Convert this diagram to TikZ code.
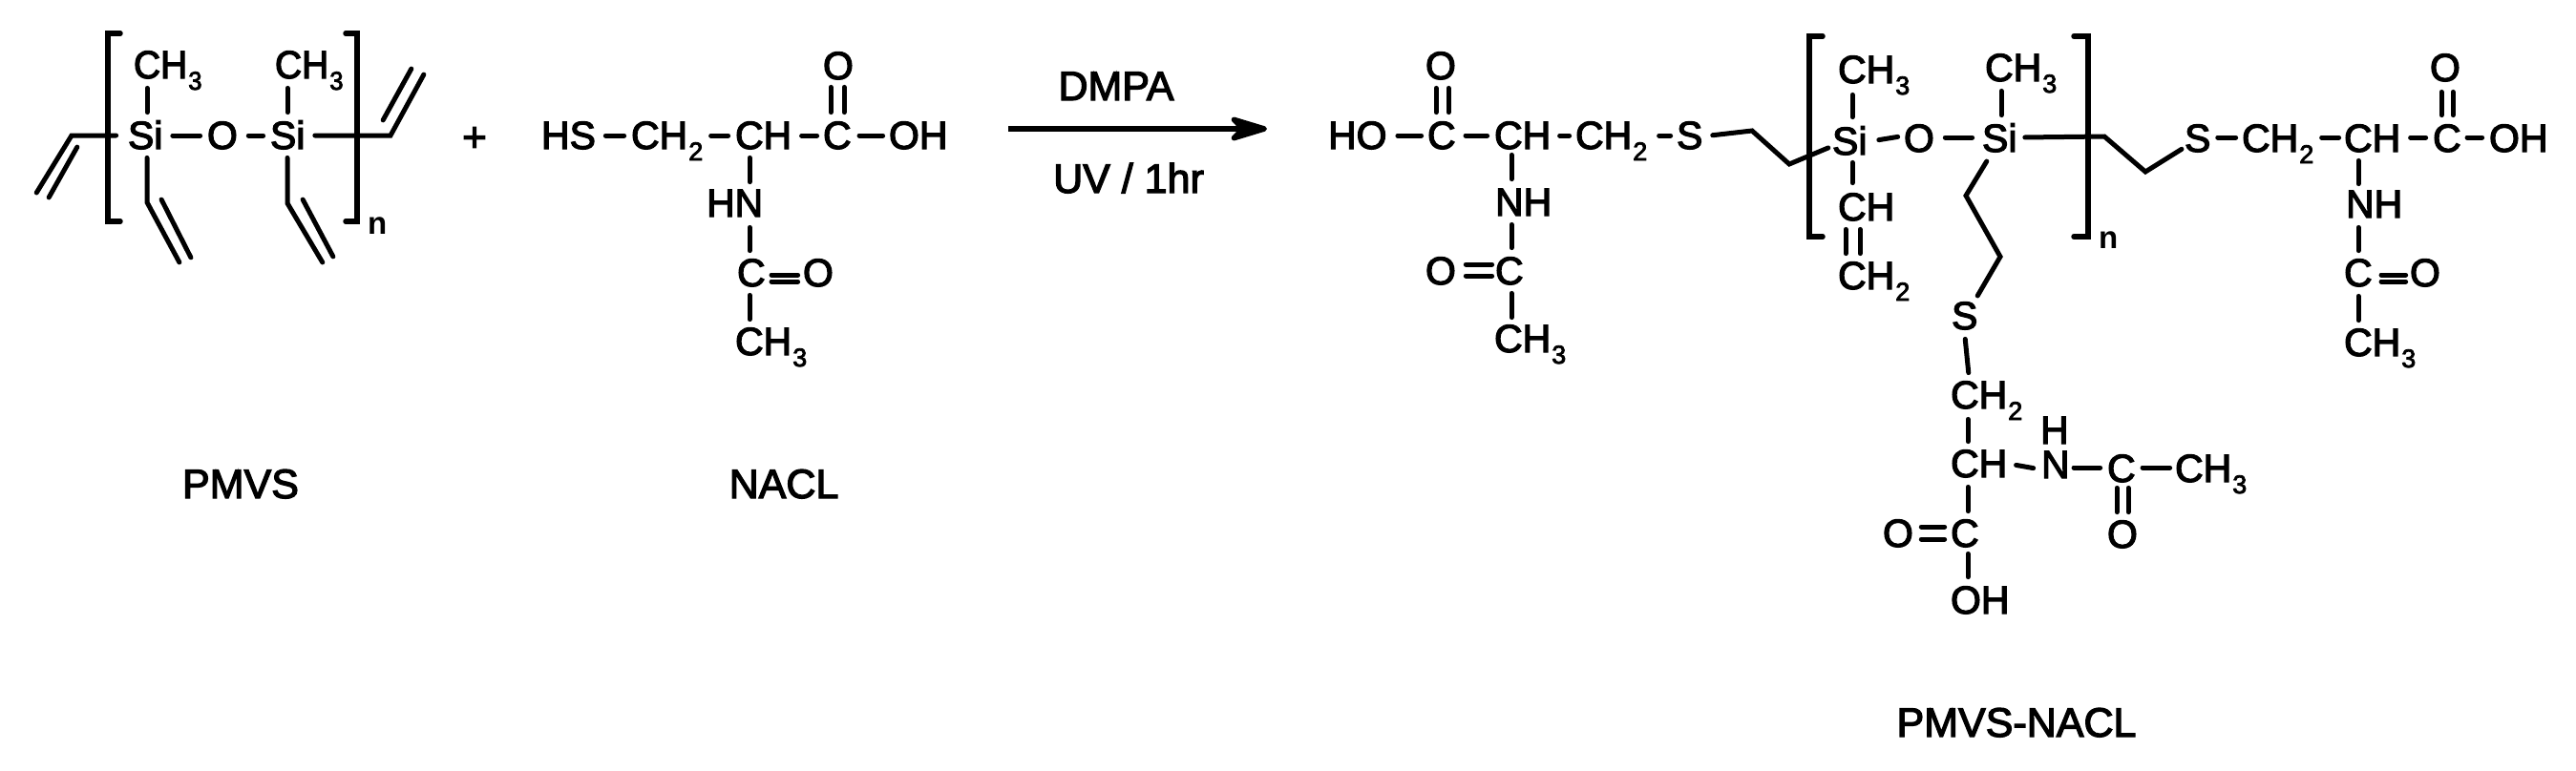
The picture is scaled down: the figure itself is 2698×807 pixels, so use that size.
\documentclass[tikz,border=0pt]{standalone}
\usepackage{fontspec}
\usepackage{tikz}
\usetikzlibrary{arrows.meta}
\newfontfamily\atomfont{Liberation Sans}[FakeBold=3]
\newfontfamily\narrowfont{Liberation Sans}[FakeBold=3,FakeStretch=0.95]
\newfontfamily\repeatfont{Liberation Sans Bold}
\newcommand{\chemsub}[1]{\kern1pt\raisebox{-12pt}{\fontsize{27}{27}\selectfont #1}}

\begin{document}
\begin{tikzpicture}[x=1pt, y=-1pt,
  atom/.style={inner sep=0pt, outer sep=0pt, anchor=base west, font=\atomfont\fontsize{41}{41}\selectfont},
  narrowatom/.style={atom, font=\narrowfont\fontsize{41}{41}\selectfont},
  sublabel/.style={inner sep=0pt, anchor=base west, font=\repeatfont\fontsize{33}{33}\selectfont},
  caption/.style={inner sep=0pt, anchor=base, font=\atomfont\fontsize{43}{43}\selectfont},
  bond/.style={draw, line width=5pt, line cap=round, line join=miter, shorten >=2.4pt, shorten <=2.4pt},
  bracket/.style={draw, line width=5.5pt, line cap=round, line join=miter}
]
  \useasboundingbox (0,0) rectangle (2698,807);

  % PMVS
  \node[atom] (pSi1) at (134,156) {Si};
  \node[atom] (pO) at (217,156) {O};
  \node[atom] (pSi2) at (283,156) {Si};
  \node[narrowatom] (pMe1) at (140,82) {CH\chemsub{3}};
  \node[narrowatom] (pMe2) at (288,82) {CH\chemsub{3}};
  \node[sublabel] (pN) at (385,245) {n};
  \coordinate (vL1) at (75,142);
  \coordinate (vL2) at (37,204);
  \coordinate (vL3) at (82,152);
  \coordinate (vL4) at (50,209);
  \coordinate (vD1) at (154,212);
  \coordinate (vD2) at (189,277);
  \coordinate (vD3) at (168,207);
  \coordinate (vD4) at (201,272);
  \coordinate (vE1) at (301,213);
  \coordinate (vE2) at (339,277);
  \coordinate (vE3) at (316,207);
  \coordinate (vE4) at (350,271);
  \coordinate (vR1) at (409,142);
  \coordinate (vR2) at (445,76);
  \coordinate (vR3) at (400,128);
  \coordinate (vR4) at (432,70);
  \draw[bracket] (126,35) -| (113,232) -- (126,232);
  \draw[bracket] (362,35) -| (374,232) -- (362,232);
  \draw[bond] ([shift={(14,8)}]pMe1.base west) -- ([shift={(20,-36)}]pSi1.base west);
  \draw[bond] ([shift={(13,8)}]pMe2.base west) -- ([shift={(18,-36)}]pSi2.base west);
  \draw[bond] ([shift={(8,-14)}]pSi1.base east) -- ([shift={(-5,-14)}]pO.base west);
  \draw[bond] ([shift={(9,-14)}]pO.base east) -- ([shift={(-5,-14)}]pSi2.base west);
  \draw[bond] ([shift={(-10,-14)}]pSi1.base west) -- (vL1) -- (vL2);
  \draw[bond] (vL3) -- (vL4);
  \draw[bond] ([shift={(20,7)}]pSi1.base west) -- (vD1) -- (vD2);
  \draw[bond] (vD3) -- (vD4);
  \draw[bond] ([shift={(18,7)}]pSi2.base west) -- (vE1) -- (vE2);
  \draw[bond] (vE3) -- (vE4);
  \draw[bond] ([shift={(8,-14)}]pSi2.base east) -- (vR1) -- (vR2);
  \draw[bond] (vR3) -- (vR4);
  \node[inner sep=0pt, font=\atomfont\fontsize{44}{44}\selectfont] (plus) at (497,146) {+};

  % NACL
  \node[atom] (nHS) at (567,156) {HS};
  \node[atom] (nCH2) at (661,156) {CH\chemsub{2}};
  \node[atom] (nCH) at (770,156) {CH};
  \node[atom] (nC) at (862,156) {C};
  \node[atom] (nOH) at (931,156) {OH};
  \node[atom] (nO) at (862,83) {O};
  \node[atom] (nHN) at (740,227) {HN};
  \node[atom] (nC2) at (772,300) {C};
  \node[atom] (nO2) at (841,300) {O};
  \node[atom] (nMe) at (770,372) {CH\chemsub{3}};
  \draw[bond] ([shift={(8,-14)}]nHS.base east) -- ([shift={(-5,-14)}]nCH2.base west);
  \draw[bond] ([shift={(6,-14)}]nCH2.base east) -- ([shift={(-5,-14)}]nCH.base west);
  \draw[bond] ([shift={(8,-14)}]nCH.base east) -- ([shift={(-4,-14)}]nC.base west);
  \draw[bond] ([shift={(6,-14)}]nC.base east) -- ([shift={(-4,-14)}]nOH.base west);
  \draw[bond] ([shift={(8,6)}]nO.base west) -- ([shift={(8,-36)}]nC.base west);
  \draw[bond] ([shift={(22,6)}]nO.base west) -- ([shift={(22,-36)}]nC.base west);
  \draw[bond] ([shift={(15,7)}]nCH.base west) -- ([shift={(45,-34)}]nHN.base west);
  \draw[bond] ([shift={(45,9)}]nHN.base west) -- ([shift={(13,-35)}]nC2.base west);
  \draw[bond] ([shift={(13,7)}]nC2.base west) -- ([shift={(15,-35)}]nMe.base west);
  \draw[bond] ([shift={(4,-12)}]nC2.base east) -- ([shift={(-3,-12)}]nO2.base west);
  \draw[bond] ([shift={(4,-5)}]nC2.base east) -- ([shift={(-3,-5)}]nO2.base west);

  % reaction arrow
  \coordinate (arrowL) at (1056,135);
  \coordinate (arrowR) at (1327,135);
  \draw[line width=5.5pt, -{Stealth[length=50pt, width=30pt, inset=14pt, round]}] (arrowL) -- (arrowR);
  \node[caption] (dmpa) at (1169,105) {DMPA};
  \node[caption] (uv) at (1182,202) {UV / 1hr};

  % PMVS-NACL, left arm
  \node[atom] (rHO) at (1391,156) {HO};
  \node[atom] (rC1) at (1495,156) {C};
  \node[atom] (rCH1) at (1565,156) {CH};
  \node[atom] (rCH21) at (1650,156) {CH\chemsub{2}};
  \node[atom] (rS1) at (1756,156) {S};
  \node[atom] (rO1) at (1493,83) {O};
  \node[atom] (rNH1) at (1566,226) {NH};
  \node[atom] (rC2) at (1566,298) {C};
  \node[atom] (rO2) at (1493,298) {O};
  \node[atom] (rMe1) at (1565,369) {CH\chemsub{3}};
  \draw[bond] ([shift={(9,-14)}]rHO.base east) -- ([shift={(-4,-14)}]rC1.base west);
  \draw[bond] ([shift={(8,-14)}]rC1.base east) -- ([shift={(-5,-14)}]rCH1.base west);
  \draw[bond] ([shift={(7,-14)}]rCH1.base east) -- ([shift={(-4,-14)}]rCH21.base west);
  \draw[bond] ([shift={(10,-14)}]rCH21.base east) -- ([shift={(-4,-14)}]rS1.base west);
  \draw[bond] ([shift={(11,7)}]rO1.base west) -- ([shift={(9,-36)}]rC1.base west);
  \draw[bond] ([shift={(24,7)}]rO1.base west) -- ([shift={(22,-36)}]rC1.base west);
  \draw[bond] ([shift={(18,4)}]rCH1.base west) -- ([shift={(17,-36)}]rNH1.base west);
  \draw[bond] ([shift={(17,7)}]rNH1.base west) -- ([shift={(17,-36)}]rC2.base west);
  \draw[bond] ([shift={(17,7)}]rC2.base west) -- ([shift={(18,-34)}]rMe1.base west);
  \draw[bond] ([shift={(8,-21)}]rO2.base east) -- ([shift={(-1,-21)}]rC2.base west);
  \draw[bond] ([shift={(8,-9)}]rO2.base east) -- ([shift={(-1,-9)}]rC2.base west);

  % PMVS-NACL, siloxane
  \node[atom] (rSi1) at (1919,162) {Si};
  \node[atom] (rO) at (1994,159) {O};
  \node[atom] (rSi2) at (2076,159) {Si};
  \node[atom] (rMe2) at (1925,87) {CH\chemsub{3}};
  \node[atom] (rMe3) at (2079,85) {CH\chemsub{3}};
  \node[atom] (rCH) at (1925,231) {CH};
  \node[atom] (rCH2v) at (1925,303) {CH\chemsub{2}};
  \node[sublabel] (rN1) at (2198,260) {n};
  \coordinate (c1) at (1835,137);
  \coordinate (c2) at (1874,172);
  \coordinate (c3) at (2204,143);
  \coordinate (c4) at (2247,180);
  \coordinate (c5) at (2059,205);
  \coordinate (c6) at (2095,269);
  \draw[bracket] (1909,38) -| (1895,248) -- (1909,248);
  \draw[bracket] (2172,38) -| (2187,248) -- (2172,248);
  \draw[bond] ([shift={(8,-14)}]rS1.base east) -- (c1) -- (c2) -- ([shift={(-2,-8)}]rSi1.base west);
  \draw[bond] ([shift={(15,10)}]rMe2.base west) -- ([shift={(21,-37)}]rSi1.base west);
  \draw[bond] ([shift={(21,6)}]rSi1.base west) -- ([shift={(15,-37)}]rCH.base west);
  \draw[bond] ([shift={(8,7)}]rCH.base west) -- ([shift={(8,-35)}]rCH2v.base west);
  \draw[bond] ([shift={(23,7)}]rCH.base west) -- ([shift={(23,-35)}]rCH2v.base west);
  \draw[bond] ([shift={(10,-15)}]rSi1.base east) -- ([shift={(-4,-16)}]rO.base west);
  \draw[bond] ([shift={(9,-15)}]rO.base east) -- ([shift={(-8,-15)}]rSi2.base west);
  \draw[bond] ([shift={(17,8)}]rMe3.base west) -- ([shift={(20,-36)}]rSi2.base west);

  % PMVS-NACL, right arm
  \node[atom] (rS2) at (2288,159) {S};
  \node[atom] (rCH22) at (2348,159) {CH\chemsub{2}};
  \node[atom] (rCH3) at (2455,159) {CH};
  \node[atom] (rC3) at (2548,159) {C};
  \node[atom] (rOH) at (2607,159) {OH};
  \node[atom] (rO3) at (2545,85) {O};
  \node[atom] (rNH2) at (2457,228) {NH};
  \node[atom] (rC4) at (2455,300) {C};
  \node[atom] (rO4) at (2524,300) {O};
  \node[atom] (rMe4) at (2455,373) {CH\chemsub{3}};
  \draw[bond] ([shift={(6,-15)}]rSi2.base east) -- (c3) -- (c4) -- ([shift={(-1,-4)}]rS2.base west);
  \draw[bond] ([shift={(5,-15)}]rS2.base east) -- ([shift={(-4,-15)}]rCH22.base west);
  \draw[bond] ([shift={(6,-15)}]rCH22.base east) -- ([shift={(-3,-15)}]rCH3.base west);
  \draw[bond] ([shift={(8,-15)}]rCH3.base east) -- ([shift={(-5,-15)}]rC3.base west);
  \draw[bond] ([shift={(4,-15)}]rC3.base east) -- ([shift={(-5,-15)}]rOH.base west);
  \draw[bond] ([shift={(12,9)}]rO3.base west) -- ([shift={(9,-36)}]rC3.base west);
  \draw[bond] ([shift={(24,9)}]rO3.base west) -- ([shift={(21,-36)}]rC3.base west);
  \draw[bond] ([shift={(15,7)}]rCH3.base west) -- ([shift={(13,-33)}]rNH2.base west);
  \draw[bond] ([shift={(13,8)}]rNH2.base west) -- ([shift={(15,-35)}]rC4.base west);
  \draw[bond] ([shift={(15,8)}]rC4.base west) -- ([shift={(15,-35)}]rMe4.base west);
  \draw[bond] ([shift={(7,-12)}]rC4.base east) -- ([shift={(-2,-12)}]rO4.base west);
  \draw[bond] ([shift={(7,-5)}]rC4.base east) -- ([shift={(-2,-5)}]rO4.base west);

  % PMVS-NACL, lower arm
  \node[atom] (rS3) at (2044,345) {S};
  \node[atom] (rCH23) at (2043,428) {CH\chemsub{2}};
  \node[atom] (rCH4) at (2043,500) {CH};
  \node[atom] (rC5) at (2043,573) {C};
  \node[atom] (rO5) at (1972,573) {O};
  \node[atom] (rOH2) at (2043,643) {OH};
  \node[atom] (rH) at (2137,465) {H};
  \node[atom] (rN) at (2138,501) {N};
  \node[atom] (rC6) at (2207,505) {C};
  \node[atom] (rO6) at (2207,574) {O};
  \node[atom] (rMe5) at (2278,505) {CH\chemsub{3}};
  \draw[bond] ([shift={(6,8)}]rSi2.base west) -- (c5) -- (c6) -- ([shift={(26,-33)}]rS3.base west);
  \draw[bond] ([shift={(14,8)}]rS3.base west) -- ([shift={(19,-35)}]rCH23.base west);
  \draw[bond] ([shift={(18,9)}]rCH23.base west) -- ([shift={(18,-35)}]rCH4.base west);
  \draw[bond] ([shift={(18,8)}]rCH4.base west) -- ([shift={(18,-35)}]rC5.base west);
  \draw[bond] ([shift={(18,5)}]rC5.base west) -- ([shift={(18,-36)}]rOH2.base west);
  \draw[bond] ([shift={(6,-21)}]rO5.base east) -- ([shift={(-4,-21)}]rC5.base west);
  \draw[bond] ([shift={(6,-8)}]rO5.base east) -- ([shift={(-4,-8)}]rC5.base west);
  \draw[bond] ([shift={(7,-13)}]rCH4.base east) -- ([shift={(-6,-10)}]rN.base west);
  \draw[bond] ([shift={(2,-11)}]rN.base east) -- ([shift={(-5,-15)}]rC6.base west);
  \draw[bond] ([shift={(5,-15)}]rC6.base east) -- ([shift={(-3,-15)}]rMe5.base west);
  \draw[bond] ([shift={(10,4)}]rC6.base west) -- ([shift={(10,-35)}]rO6.base west);
  \draw[bond] ([shift={(22,4)}]rC6.base west) -- ([shift={(22,-35)}]rO6.base west);

  \node[caption] (lblPMVS) at (252,522) {PMVS};
  \node[caption] (lblNACL) at (821,522) {NACL};
  \node[caption] (lblProduct) at (2112,772) {PMVS-NACL};
\end{tikzpicture}
\end{document}
